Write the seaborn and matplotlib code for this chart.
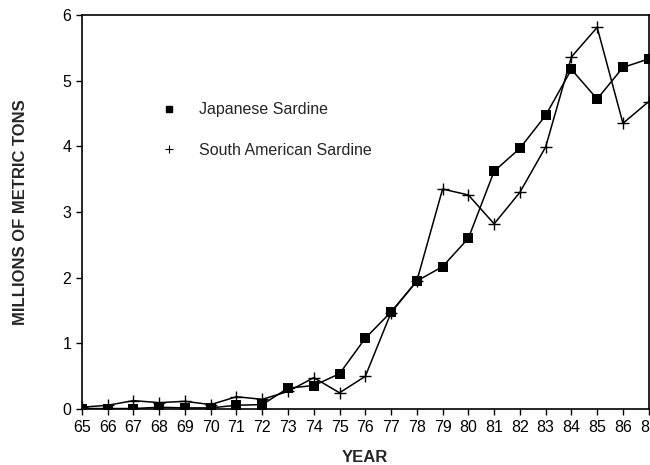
import numpy as np
import pandas as pd
import seaborn as sns
import matplotlib.pyplot as plt
from matplotlib.lines import Line2D

# catch in millions of metric tons, years 1965-1987
years = list(range(65, 88))
japanese = [0.01, 0.01, 0.01, 0.03, 0.02, 0.02, 0.06, 0.07, 0.32, 0.36, 0.54, 1.08,
            1.48, 1.95, 2.17, 2.60, 3.62, 3.97, 4.47, 5.17, 4.72, 5.20, 5.33]
south_american = [0.03, 0.06, 0.13, 0.10, 0.12, 0.07, 0.19, 0.15, 0.27, 0.48, 0.25, 0.50,
                  1.47, 1.95, 3.35, 3.26, 2.82, 3.30, 3.99, 5.36, 5.81, 4.35, 4.68]

df = pd.DataFrame({"year": years, "Japanese Sardine": japanese,
                   "South American Sardine": south_american})

sns.set_style("ticks")
plt.rcParams["font.family"] = ["Liberation Sans", "DejaVu Sans"]

fig, ax = plt.subplots(figsize=(6.5, 4.65), dpi=100)
fig.subplots_adjust(left=0.126, right=0.998, top=0.968, bottom=0.12)

sns.lineplot(data=df, x="year", y="Japanese Sardine", ax=ax, color="black",
             linewidth=1.1, marker="s", markersize=7, markeredgewidth=0,
             markerfacecolor="black", markeredgecolor="black")
sns.lineplot(data=df, x="year", y="South American Sardine", ax=ax, color="black",
             linewidth=1.1, marker="+", markersize=8, markeredgewidth=1,
             markeredgecolor="black")

ax.set_xlim(65, 87)
ax.set_ylim(0, 6)
ax.set_xticks(years)
ax.set_xticklabels([str(y) for y in years])
ax.set_yticks(range(0, 7))
for s in ax.spines.values():
    s.set_linewidth(1.2)
    s.set_color("black")
ax.tick_params(direction="out", length=4, width=1, labelsize=11.5, colors="black")

ax.set_xlabel("YEAR", fontsize=12, fontweight="bold", labelpad=11)
ax.set_ylabel("MILLIONS OF METRIC TONS", fontsize=12, fontweight="bold", labelpad=25)

handles = [Line2D([], [], color="black", marker="s", linestyle="none", markersize=5),
           Line2D([], [], color="black", marker="+", linestyle="none", markersize=6,
                  markeredgewidth=0.8)]
ax.legend(handles, ["Japanese Sardine", "South American Sardine"], frameon=False,
          loc="upper left", bbox_to_anchor=(0.10, 0.815), fontsize=11.5,
          handletextpad=0.9, labelspacing=1.6)

fig.savefig("out.png", dpi=100)
